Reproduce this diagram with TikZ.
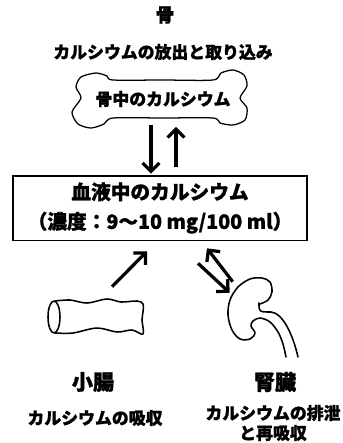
\documentclass[tikz,border=0pt]{standalone}
\usepackage{fontspec}
\setmainfont{Noto Sans CJK JP}[BoldFeatures={FakeBold=1.2}]
\usetikzlibrary{arrows.meta,positioning}

\begin{document}
\begin{tikzpicture}[
    x=0.025cm, y=-0.025cm,
    lbl/.style={font=\fontsize{12}{14.2}\bfseries\selectfont, inner sep=0},
    organ/.style={font=\fontsize{15}{17}\bfseries\selectfont, inner sep=0},
    arr/.style={line width=2.3pt, -{Straight Barb[length=6pt,width=12pt]}},
    outline/.style={line width=1.1pt, line join=round, line cap=round},
  ]
  \useasboundingbox (0,0) rectangle (343,443);

  % bone
  \node[lbl, font=\fontsize{13.5}{15}\bfseries\selectfont] (bonetitle) at (165,15) {骨};
  \node[lbl] (bonerole) at (163,52) {カルシウムの放出と取り込み};
  \draw[outline, line width=0.9pt] plot[smooth cycle, tension=0.45] coordinates {
    (113,80) (163,80) (213,80) (221,73) (233,70) (244,75) (247,86) (240,98)
    (247,108) (245,120) (233,125) (220,123) (213,118) (163,118) (113,118)
    (104,124) (91,128) (78,124) (72,112) (81,98) (76,87) (81,77) (96,73) (107,76)};
  \node[lbl, minimum width=2.45cm, minimum height=0.925cm] (bone) at (163,99) {骨中のカルシウム};

  % blood
  \node[draw, line width=1.3pt, minimum width=7.33cm, minimum height=1.62cm, align=center,
    font=\fontsize{14}{21}\bfseries\selectfont] (blood) at (160,208)
    {血液中のカルシウム\\（濃度：9～10 mg/100 ml）};

  % small intestine
  \node[minimum width=2.43cm, minimum height=0.9cm, inner sep=0] (gut) at (96,318) {};
  \draw[outline] (54,317) ellipse [x radius=0.15cm, y radius=0.4cm];
  \draw[outline] plot[smooth, tension=0.55] coordinates {
    (55,301) (70,300) (87,303) (107,299) (121,302) (137,301) (143,304)
    (143,312) (142,320) (143,334)
    (132,330) (117,332) (97,328) (73,333) (55,333)};
  \node[organ] (gutname) at (93,382) {小腸};
  \node[lbl] (gutrole) at (95,418) {カルシウムの吸収};

  % kidney
  \node[minimum width=1.9cm, minimum height=2cm, inner sep=0] (kidney) at (264,318) {};
  \draw[outline] plot[smooth, tension=0.55] coordinates {
    (260,304) (268,300) (272,292) (270,282) (262,278) (250,279) (238,287)
    (230,300) (228,315) (232,330) (240,339) (250,339) (255,333) (251,326)
    (253,321) (260,318) (270,322) (278,332) (283,344) (286,357)};
  \draw[outline] (259,303) .. controls (259,312) .. (271,312)
    .. controls (283,313) and (293,335) .. (298,357);
  \node[organ] (kidneyname) at (275,382) {腎臓};
  \node[lbl, align=center] (kidneyrole) at (273,423) {カルシウムの排泄\\と再吸収};

  % exchange arrows
  \draw[arr] ([shift={(-12,7)}]bone.south) -- ([shift={(-9,-1)}]blood.north);
  \draw[arr] ([shift={(16,-8)}]blood.north) -- ([shift={(13,9)}]bone.south);
  \draw[arr] ([shift={(16,-13)}]gut.north) -- ([shift={(-13,10)}]blood.south);
  \draw[arr] ([shift={(7,4)}]kidney.north west) -- ([shift={(47,7)}]blood.south);
  \draw[arr] ([shift={(38,22)}]blood.south) -- ([shift={(4,15)}]kidney.north west);

\end{tikzpicture}
\end{document}
